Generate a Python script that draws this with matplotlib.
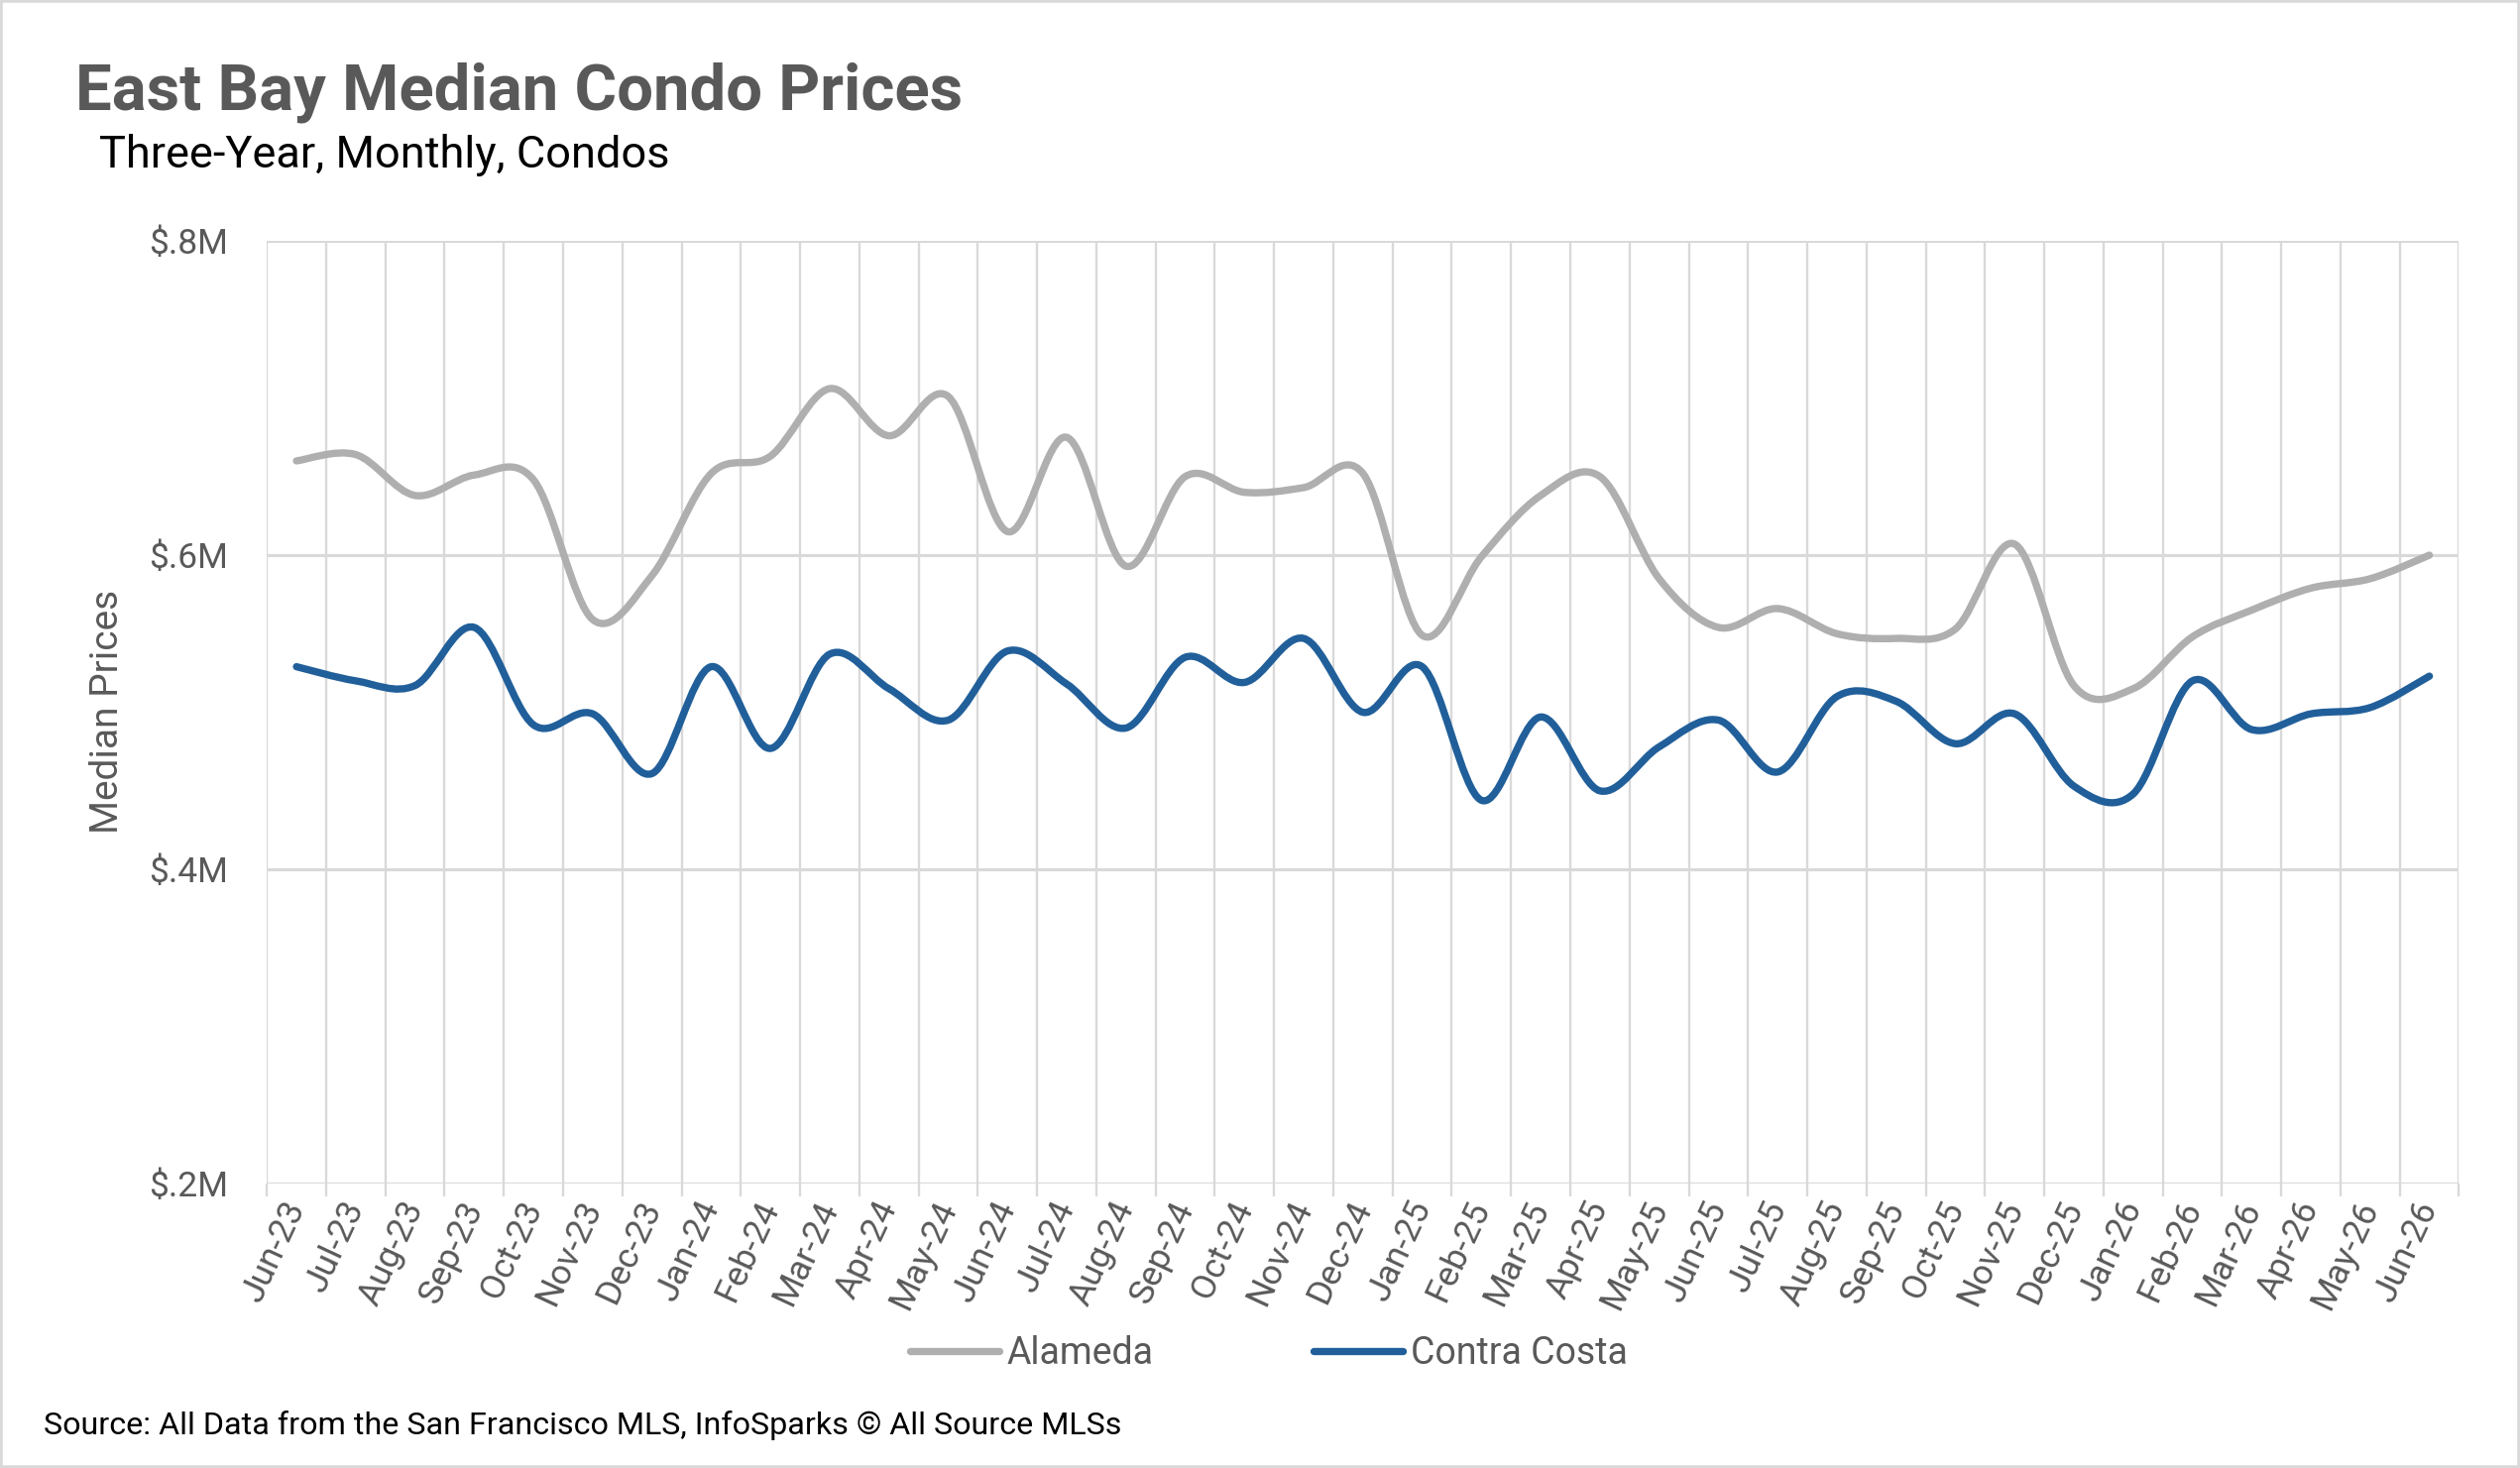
# East Bay median condo prices, smoothed lines like Excel
import numpy as np
import matplotlib
matplotlib.use("Agg")
import matplotlib.pyplot as plt
from matplotlib.path import Path
from matplotlib.patches import PathPatch, Rectangle
from matplotlib.lines import Line2D

plt.rcParams['font.family'] = ['Roboto', 'DejaVu Sans']

months = ['Jun-23', 'Jul-23', 'Aug-23', 'Sep-23', 'Oct-23', 'Nov-23', 'Dec-23',
          'Jan-24', 'Feb-24', 'Mar-24', 'Apr-24', 'May-24', 'Jun-24', 'Jul-24',
          'Aug-24', 'Sep-24', 'Oct-24', 'Nov-24', 'Dec-24', 'Jan-25', 'Feb-25',
          'Mar-25', 'Apr-25', 'May-25', 'Jun-25', 'Jul-25', 'Aug-25', 'Sep-25',
          'Oct-25', 'Nov-25', 'Dec-25', 'Jan-26', 'Feb-26', 'Mar-26', 'Apr-26',
          'May-26', 'Jun-26']

# median prices in $
alameda = [660000, 664000, 638000, 651000, 648000, 559000, 587000, 652000, 663000,
           706000, 676000, 701000, 615000, 675000, 593000, 650000, 640000, 643000,
           652000, 549000, 599000, 638000, 650000, 585000, 554000, 566000, 550000,
           547000, 553000, 607000, 517000, 515000, 548000, 565000, 579000, 585000,
           600000]
contra_costa = [529000, 520000, 517000, 554000, 492000, 499000, 461000, 529000, 477000,
                537000, 515000, 495000, 539000, 518000, 490000, 535000, 519000, 547000,
                500000, 529000, 444000, 497000, 450000, 478000, 495000, 462000, 510000,
                507000, 480000, 499000, 453000, 448000, 520000, 489000, 499000, 503000,
                523000]

y_ticks = [200000, 400000, 600000, 800000]
y_labels = ['$.2M', '$.4M', '$.6M', '$.8M']

GRAY = '#afafaf'
BLUE = '#215f9a'
TXT = '#595959'


def smooth_path(ys):
    # Catmull-Rom style bezier through every point (close to Excel "smoothed line")
    pts = np.column_stack([np.arange(len(ys)), np.asarray(ys, dtype=float)])
    ext = np.vstack([pts[0], pts, pts[-1]])
    verts = [pts[0]]
    codes = [Path.MOVETO]
    for k in range(len(pts) - 1):
        p0, p1, p2, p3 = ext[k], ext[k + 1], ext[k + 2], ext[k + 3]
        verts += [p1 + (p2 - p0) / 6, p2 - (p3 - p1) / 6, p2]
        codes += [Path.CURVE4] * 3
    return Path(verts, codes)


fig = plt.figure(figsize=(25.42, 14.81), dpi=100)
ax = fig.add_axes([0.1059, 0.1937, 0.8699, 0.6422])

for ys, col in [(alameda, GRAY), (contra_costa, BLUE)]:
    ax.add_patch(PathPatch(smooth_path(ys), fill=False, edgecolor=col, lw=5.3,
                           capstyle='round', joinstyle='round', zorder=3))

ax.set_xlim(-0.5, len(months) - 0.5)
ax.set_ylim(200000, 800000)

ax.set_yticks(y_ticks, y_labels)
ax.set_xticks(np.arange(len(months)), months)
ax.set_xticks(np.arange(-0.5, len(months), 1), minor=True)
ax.grid(axis='y', color='#d9d9d9', lw=2.2)
ax.grid(axis='x', which='minor', color='#d9d9d9', lw=1.7)
ax.tick_params(axis='y', length=0, pad=28, labelsize=25.5, labelcolor=TXT)
ax.tick_params(axis='x', which='major', length=0, pad=14, labelsize=25.5, labelcolor=TXT)
ax.tick_params(axis='x', which='minor', length=9, width=1.7, color='#d9d9d9')
for lab in ax.get_xticklabels():
    lab.set_rotation(65)
    lab.set_ha('right')
    lab.set_va('center')
    lab.set_rotation_mode('anchor')
for s in ax.spines.values():
    s.set_visible(False)

fig.text(0.0427, 0.515, 'Median Prices', rotation=90, ha='center', va='center',
         fontsize=28, color=TXT)
fig.text(0.030, 0.9256, 'East Bay Median Condo Prices', fontsize=47, fontweight='bold',
         color=TXT, va='baseline')
fig.text(0.0395, 0.886, 'Three-Year, Monthly, Condos', fontsize=32.5, color='black',
         va='baseline')
fig.text(0.0172, 0.023, 'Source: All Data from the San Francisco MLS, InfoSparks \u00a9 All Source MLSs',
         fontsize=23.2, color='black', va='baseline')

handles = [Line2D([], [], color=GRAY, lw=5.3, solid_capstyle='round'),
           Line2D([], [], color=BLUE, lw=5.3, solid_capstyle='round')]
leg = fig.legend(handles, ['Alameda', 'Contra Costa'], loc='center',
                 bbox_to_anchor=(0.5035, 0.078), ncol=2, frameon=False, fontsize=27,
                 handlelength=2.4, handletextpad=0.2, columnspacing=4.3)
for t in leg.get_texts():
    t.set_color(TXT)

fig.patches.append(Rectangle((0, 0), 1, 1, transform=fig.transFigure, fill=False,
                             edgecolor='#d9d9d9', lw=4))

fig.savefig('out.png', dpi=100)
